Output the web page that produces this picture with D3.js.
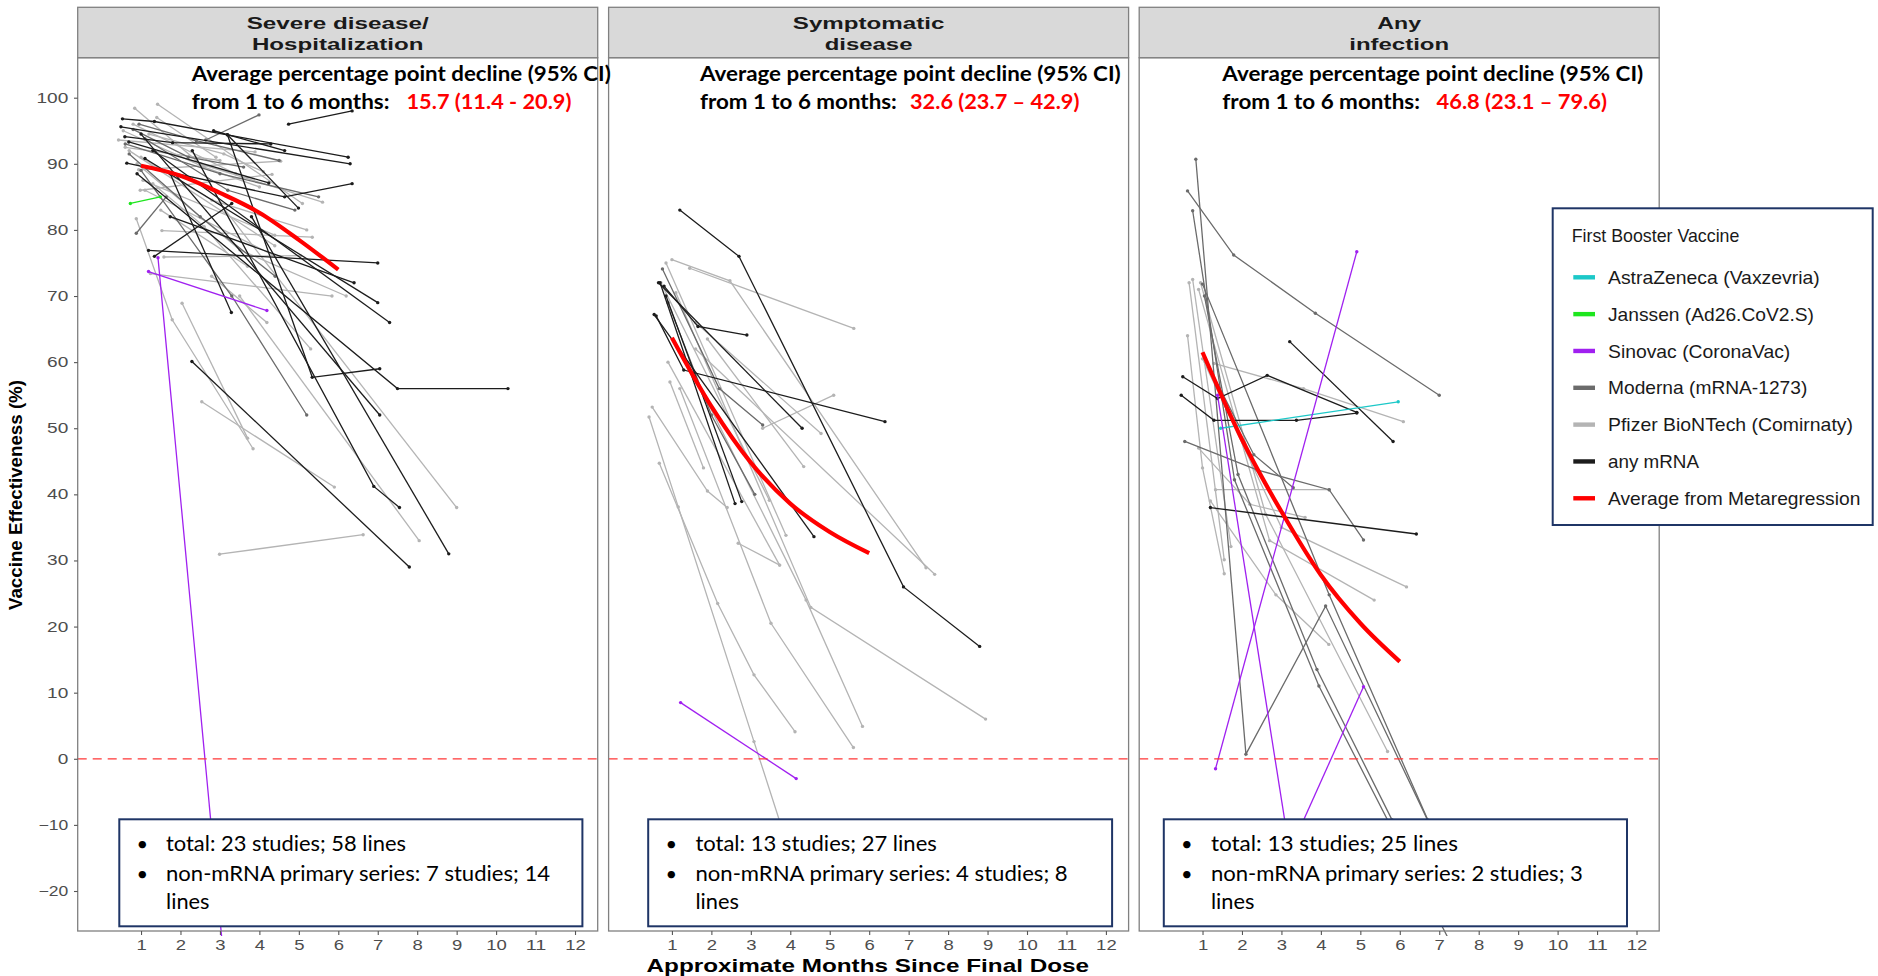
<!DOCTYPE html>
<html><head><meta charset="utf-8">
<script src="https://cdn.jsdelivr.net/npm/d3@7"></script>
<style>body{margin:0;background:#fff}svg{display:block}</style>
</head><body>
<script>
// ---------------- DATA ----------------
const xTicks = [1,2,3,4,5,6,7,8,9,10,11,12];
const yTicks = [-20,-10,0,10,20,30,40,50,60,70,80,90,100];
const panelTitles = [["Severe disease/","Hospitalization"],["Symptomatic","disease"],["Any","infection"]];
const vaccineCodes = ["AZ","J","S","M","P","A","AVG"];
const vaccineLabels = ["AstraZeneca (Vaxzevria)","Janssen (Ad26.CoV2.S)","Sinovac (CoronaVac)","Moderna (mRNA-1273)","Pfizer BioNTech (Comirnaty)","any mRNA","Average from Metaregression"];
const legendTitle = "First Booster Vaccine";
const declineLabel = "Average percentage point decline (95% CI)";
const declineFrom = "from 1 to 6 months:";
const declineValues = ["15.7 (11.4 - 20.9)","32.6 (23.7 \u2013 42.9)","46.8 (23.1 \u2013 79.6)"];
const boxTotal = ["total: 23 studies; 58 lines","total: 13 studies; 27 lines","total:  13 studies; 25 lines"];
const boxNonMrna = ["non-mRNA primary series: 7 studies; 14","non-mRNA primary series: 4 studies; 8","non-mRNA primary series: 2 studies; 3"];
const boxTail = ["lines","lines","lines"];
const xTitle = "Approximate Months Since Final Dose";
const yTitle = "Vaccine Effectiveness (%)";

// [first booster, [[months, VE%], ...]]
const severeLines = [
 ["A",[[0.53,96.8],[1.34,96.4],[6.25,91.0]]],
 ["A",[[0.49,95.6],[6.3,90.0]]],
 ["A",[[4.74,96.0],[6.35,98.0]]],
 ["A",[[2.84,95.0],[4.64,92.0]]],
 ["A",[[0.59,94.1],[1.8,93.2],[4.29,93.0]]],
 ["A",[[3.19,94.4],[4.99,83.3]]],
 ["A",[[0.64,90.1],[4.64,85.0],[6.35,87.0]]],
 ["A",[[1.19,76.9],[7.0,75.0]]],
 ["A",[[1.34,76.0],[3.3,84.0]]],
 ["A",[[1.74,82.0],[6.4,72.0]]],
 ["A",[[2.29,60.1],[7.8,29.0]]],
 ["A",[[0.9,88.5],[7.5,56.0],[10.3,56.0]]],
 ["A",[[3.19,94.4],[5.34,57.7],[7.05,59.0]]],
 ["A",[[1.0,94.5],[7.05,52.0]]],
 ["A",[[1.74,88.5],[3.29,67.5]]],
 ["A",[[1.3,92.0],[7.3,66.0]]],
 ["A",[[1.1,90.8],[7.0,69.0]]],
 ["A",[[2.3,92.0],[6.9,41.2],[7.55,38.0]]],
 ["A",[[3.8,82.0],[8.8,31.0]]],
 ["A",[[0.69,93.3],[4.24,87.1]]],
 ["M",[[2.64,93.6],[3.99,97.4]]],
 ["M",[[0.95,96.0],[2.4,93.5],[4.5,90.5]]],
 ["M",[[0.88,79.5],[1.64,85.0]]],
 ["M",[[0.6,93.0],[3.0,88.5],[5.5,85.0]]],
 ["M",[[1.1,93.8],[3.2,86.0],[4.9,83.0]]],
 ["M",[[0.7,91.5],[2.5,82.0],[4.4,73.0]]],
 ["M",[[1.0,89.0],[3.3,70.0],[5.2,52.0]]],
 ["M",[[0.8,95.2],[2.2,91.0],[3.6,89.5]]],
 ["P",[[0.84,98.4],[2.5,90.0],[5.6,84.2]]],
 ["P",[[1.42,99.0],[5.09,84.0]]],
 ["P",[[0.43,93.6],[3.89,91.8]]],
 ["P",[[0.94,89.1],[4.54,90.4]]],
 ["P",[[0.98,86.0],[4.32,88.4]]],
 ["P",[[0.88,81.7],[1.79,66.4],[3.84,46.9]]],
 ["P",[[2.04,68.9],[3.7,48.5]]],
 ["P",[[2.54,54.0],[5.9,41.1]]],
 ["P",[[1.53,79.9],[5.34,78.9]]],
 ["P",[[1.24,73.4],[5.84,70.0]]],
 ["P",[[1.58,75.9],[5.04,76.1]]],
 ["P",[[2.79,73.0],[4.19,66.0]]],
 ["P",[[3.0,84.0],[9.0,38.0]]],
 ["P",[[3.5,70.0],[8.05,33.0]]],
 ["P",[[2.99,30.95],[6.63,33.9]]],
 ["P",[[1.05,87.5],[4.39,79.2]]],
 ["P",[[1.1,86.0],[4.34,76.2]]],
 ["P",[[0.7,92.0],[4.39,77.6]]],
 ["P",[[0.55,95.0],[2.6,89.5],[4.0,86.5]]],
 ["P",[[0.8,96.0],[3.4,88.5]]],
 ["P",[[0.6,92.5],[3.0,90.5]]],
 ["P",[[1.0,91.0],[2.8,84.5],[5.2,80.0]]],
 ["P",[[1.5,83.0],[3.7,74.5]]],
 ["P",[[0.9,90.0],[3.5,77.0],[6.2,70.0]]],
 ["P",[[1.2,94.5],[3.1,91.5],[4.1,88.8]]],
 ["P",[[1.4,97.0],[2.9,91.0]]],
 ["P",[[1.3,87.0],[2.6,80.5],[5.3,62.0]]],
 ["S",[[1.43,75.8],[3.06,-28.0]]],
 ["S",[[1.19,73.7],[4.19,67.8]]],
 ["J",[[0.73,84.0],[1.49,85.0]]]
];
const symptomaticLines = [
 ["A",[[1.2,83.0],[2.7,76.0],[6.87,26.0],[8.8,17.0]]],
 ["A",[[0.6,67.0],[1.3,58.8],[6.4,51.0]]],
 ["A",[[0.66,72.0],[4.3,50.0]]],
 ["A",[[0.55,67.2],[4.6,33.6]]],
 ["A",[[0.8,71.5],[1.66,65.4],[2.9,64.1]]],
 ["A",[[0.7,72.0],[2.6,38.6]]],
 ["A",[[0.85,70.0],[2.77,38.9]]],
 ["M",[[0.76,74.1],[2.2,56.0],[3.3,50.5]]],
 ["M",[[0.9,69.0],[2.0,52.0],[3.1,40.0]]],
 ["P",[[1.45,74.2],[5.61,65.1]]],
 ["P",[[1.0,75.5],[2.47,72.3],[7.44,28.9]]],
 ["P",[[1.6,62.0],[7.66,27.9]]],
 ["P",[[3.3,50.0],[5.1,55.0]]],
 ["P",[[1.1,70.5],[4.52,22.9],[8.95,6.0]]],
 ["P",[[1.4,60.0],[4.4,24.0],[5.83,4.9]]],
 ["P",[[1.2,56.0],[3.51,20.5],[5.6,1.7]]],
 ["P",[[0.68,44.7],[2.16,23.5],[3.08,12.7],[4.12,4.1]]],
 ["P",[[0.42,51.7],[1.16,38.1],[3.08,2.6],[4.3,-20.0]]],
 ["P",[[2.68,32.6],[3.73,29.3]]],
 ["P",[[0.85,75.0],[3.89,33.8]]],
 ["P",[[0.72,72.0],[3.47,39.1]]],
 ["P",[[0.9,60.0],[3.73,29.3]]],
 ["P",[[1.9,63.5],[4.34,44.2]]],
 ["P",[[1.6,66.0],[4.78,49.2]]],
 ["P",[[0.5,53.2],[1.9,40.5],[2.4,38.0]]],
 ["P",[[0.95,57.0],[1.8,44.0]]],
 ["S",[[1.22,8.5],[4.15,-3.0]]]
];
const infectionLines = [
 ["M",[[0.83,90.7],[2.1,0.7],[4.12,23.1],[6.7,-9.2],[7.4,-18.0]]],
 ["M",[[1.0,71.8],[4.21,24.8],[6.75,-9.8],[7.3,-17.0]]],
 ["M",[[0.75,82.9],[1.81,42.2],[3.95,11.0],[7.3,-28.0]]],
 ["M",[[1.05,70.0],[1.9,43.0],[3.9,13.5],[5.8,-9.2],[6.5,-18.0]]],
 ["M",[[0.62,85.9],[1.79,76.2],[3.86,67.4],[7.0,55.0]]],
 ["M",[[0.55,48.0],[2.38,43.7],[4.21,40.7],[5.08,33.1]]],
 ["M",[[1.1,60.0],[2.3,46.0],[3.3,41.0]]],
 ["A",[[0.5,57.8],[1.38,54.5],[2.64,58.0],[4.91,52.4]]],
 ["A",[[0.46,55.0],[1.29,51.2],[3.38,51.2],[4.91,52.3]]],
 ["A",[[3.21,63.1],[5.83,48.0]]],
 ["A",[[1.2,38.0],[6.42,34.0]]],
 ["P",[[1.29,59.8],[3.56,56.0],[6.09,51.0]]],
 ["P",[[1.33,40.7],[4.21,40.7]]],
 ["P",[[0.66,72.0],[1.55,30.1]]],
 ["P",[[0.75,72.5],[1.72,32.1]]],
 ["P",[[0.9,71.0],[2.7,33.0],[5.35,24.0]]],
 ["P",[[1.0,60.5],[3.0,35.0],[6.17,26.0]]],
 ["P",[[0.95,72.0],[2.6,37.0],[5.69,1.1]]],
 ["P",[[1.2,39.0],[2.86,24.8],[4.2,17.3]]],
 ["P",[[0.62,64.0],[1.0,44.0],[1.55,28.0]]],
 ["P",[[0.9,47.0],[2.2,38.5],[3.6,36.5]]],
 ["AZ",[[1.46,50.0],[5.96,54.0]]],
 ["S",[[1.33,-1.5],[4.91,76.7]]],
 ["S",[[1.38,55.0],[3.46,-23.5]]],
 ["S",[[2.49,-23.5],[5.08,10.9]]]
];
const severeAvg = [[1,89.7],[2,88.2],[3,85.6],[4,82.6],[5,78.5],[6,74.0]];
const symptomaticAvg = [[1,63.7],[2,53.3],[3,44.8],[4,38.6],[5,34.3],[6,31.1]];
const infectionAvg = [[1,61.5],[2,48.3],[3,37.4],[4,27.8],[5,20.5],[6,14.7]];

// ---------------- STYLE / LAYOUT ----------------
const colors = {AZ:"#1cc8c8",J:"#1ee61e",S:"#a020f0",M:"#6b6b6b",P:"#b4b4b4",A:"#1c1c1c",AVG:"#ff0000"};
const panelLeft = [77.7, 608.6, 1139.2], panelW = 520;
const stripTop = 7.3, panelTop = 57.7, panelBottom = 931;
const borderCol = "#808080", navy = "#1f3566";
const sans = "'Liberation Sans', Arial, sans-serif";
const calibri = "Lato, 'Open Sans', sans-serif";

const svg = d3.select("body").append("svg").attr("width",1878).attr("height",976)
  .style("font-family", sans);

const x = d3.scaleLinear().domain([-0.605,12.575]).range([0,panelW]);
const y = d3.scaleLinear().domain([-26.05,106.05]).range([panelBottom,panelTop]);
const line = d3.line().x(d=>x(d[0])).y(d=>y(d[1]));
const avgLine = d3.line().x(d=>x(d[0])).y(d=>y(d[1])).curve(d3.curveMonotoneX);

const allLines = [severeLines, symptomaticLines, infectionLines];
const allAvg = [severeAvg, symptomaticAvg, infectionAvg];

function fitText(sel, w){ sel.attr("textLength", w).attr("lengthAdjust","spacingAndGlyphs"); }

const defs = svg.append("defs");
allLines.forEach((lines, i) => {
  defs.append("clipPath").attr("id","clip"+i).append("rect")
    .attr("x",0).attr("y",panelTop).attr("width",panelW).attr("height",panelBottom-panelTop+5);
  const g = svg.append("g").attr("transform",`translate(${panelLeft[i]},0)`);
  g.append("rect").attr("x",0).attr("y",panelTop).attr("width",panelW).attr("height",panelBottom-panelTop).attr("fill","#fff");
  const data = g.append("g").attr("clip-path",`url(#clip${i})`);
  const order = {P:0,M:1,A:2,AZ:3,J:3,S:3};
  const sorted = lines.slice().sort((a,b)=>order[a[0]]-order[b[0]]);
  sorted.forEach(([v,pts])=>{
    data.append("path").attr("d",line(pts)).attr("fill","none").attr("stroke",colors[v]).attr("stroke-width",1.3);
    data.selectAll(null).data(pts).enter().append("circle")
      .attr("cx",d=>x(d[0])).attr("cy",d=>y(d[1])).attr("r",1.7).attr("fill",colors[v]);
  });
  data.append("path").attr("d",avgLine(allAvg[i])).attr("fill","none").attr("stroke",colors.AVG).attr("stroke-width",4.2);
  g.append("line").attr("x1",0).attr("x2",panelW).attr("y1",y(0)).attr("y2",y(0))
    .attr("stroke","#ff3636").attr("stroke-width",1.3).attr("stroke-dasharray","9,6");
  g.append("rect").attr("x",0).attr("y",panelTop).attr("width",panelW).attr("height",panelBottom-panelTop)
    .attr("fill","none").attr("stroke",borderCol).attr("stroke-width",1.3);
  g.append("rect").attr("x",0).attr("y",stripTop).attr("width",panelW).attr("height",panelTop-stripTop)
    .attr("fill","#d9d9d9").attr("stroke",borderCol).attr("stroke-width",1.3);
  const stripW = [[182,171.6],[151.5,87.8],[43.7,99.9]][i];
  panelTitles[i].forEach((t,k)=>{
    g.append("text").attr("x",panelW/2).attr("y",[29.3,50][k]).attr("text-anchor","middle")
      .attr("font-weight","bold").attr("font-size",17).attr("fill","#1a1a1a").text(t).call(fitText, stripW[k]);
  });
  const xa = g.append("g").attr("transform",`translate(0,${panelBottom})`)
    .call(d3.axisBottom(x).tickValues(xTicks).tickSize(4).tickPadding(5));
  xa.select(".domain").remove();
  xa.selectAll(".tick line").attr("stroke","#555").attr("stroke-width",1.1);
  xa.selectAll(".tick text").attr("fill","#4d4d4d").attr("font-size",14).attr("font-family",sans)
    .each(function(d){ const s=String(d); d3.select(this).call(fitText, s.length*10.3); });
  if (i===0) {
    const ya = g.append("g").call(d3.axisLeft(y).tickValues(yTicks).tickSize(3.7).tickPadding(5.7));
    ya.select(".domain").remove();
    ya.selectAll(".tick line").attr("stroke","#555").attr("stroke-width",1.1);
    ya.selectAll(".tick text").attr("fill","#4d4d4d").attr("font-size",14).attr("font-family",sans)
      .each(function(d){ const s=String(d); const w=s.replace("-","").length*10.6+(s.includes("-")?8.5:0); d3.select(this).call(fitText, w); });
  }
});

const ann = [
  {x:191.8, w1:419, wf:197.7, rx:406.5, rw:164.9},
  {x:699.9, w1:420.8, wf:197, rx:910, rw:169.4},
  {x:1222.3, w1:420.9, wf:197.7, rx:1436.5, rw:170.5}
];
ann.forEach((a,i)=>{
  svg.append("text").attr("x",a.x).attr("y",81).attr("font-family",calibri).attr("font-weight","bold")
    .attr("font-size",20).attr("fill","#000").text(declineLabel).call(fitText,a.w1);
  svg.append("text").attr("x",a.x).attr("y",109.3).attr("font-family",calibri).attr("font-weight","bold")
    .attr("font-size",20).attr("fill","#000").text(declineFrom).call(fitText,a.wf);
  svg.append("text").attr("x",a.rx).attr("y",109.3).attr("font-family",calibri).attr("font-weight","bold")
    .attr("font-size",20).attr("fill","#ff0000").text(declineValues[i]).call(fitText,a.rw);
});

const boxes = [
  {x0:119.3,x1:582.4,bx:142.3,tx:166,w:[240,384,43.5]},
  {x0:648.2,x1:1112.1,bx:671.3,tx:695.4,w:[241.4,372.3,43.5]},
  {x0:1163.8,x1:1627,bx:1186.8,tx:1210.9,w:[247,372,43.5]}
];
boxes.forEach((b,i)=>{
  svg.append("rect").attr("x",b.x0).attr("y",819.3).attr("width",b.x1-b.x0).attr("height",926.3-819.3)
    .attr("fill","#fff").attr("stroke",navy).attr("stroke-width",2);
  const tl = [boxTotal[i], boxNonMrna[i], boxTail[i]];
  const by = [850.7, 880.5, 908.5];
  tl.forEach((t,k)=>{
    svg.append("text").attr("x",b.tx).attr("y",by[k]).attr("font-family",calibri).attr("font-size",20.5)
      .attr("fill","#000").text(t).call(fitText,b.w[k]);
  });
  [0,1].forEach(k=>{
    svg.append("text").attr("x",b.bx).attr("y",by[k]).attr("text-anchor","middle").attr("font-family",calibri)
      .attr("font-size",20).attr("fill","#000").text("\u2022");
  });
});

svg.append("text").attr("x",867.8).attr("y",971.7).attr("text-anchor","middle").attr("font-weight","bold")
  .attr("font-size",18.5).attr("fill","#000").text(xTitle).call(fitText,442.5);
svg.append("text").attr("transform","translate(21.7,495) rotate(-90)").attr("text-anchor","middle")
  .attr("font-weight","bold").attr("font-size",19).attr("fill","#000").text(yTitle).call(fitText,230);

const lg = svg.append("g");
lg.append("rect").attr("x",1552.7).attr("y",208.3).attr("width",320).attr("height",316.7)
  .attr("fill","#fff").attr("stroke",navy).attr("stroke-width",2);
lg.append("text").attr("x",1571.7).attr("y",241.7).attr("font-size",18.5).attr("fill","#1a1a1a")
  .text(legendTitle).call(fitText,167.7);
const legW = [211.7,206,182.3,199.3,245,91,252.3];
vaccineCodes.forEach((c,k)=>{
  const cy = 277.3 + k*36.83;
  lg.append("rect").attr("x",1573.3).attr("y",cy-2.2).attr("width",21.7).attr("height",4.4).attr("fill",colors[c]);
  lg.append("text").attr("x",1608).attr("y",cy+6.7).attr("font-size",18.5).attr("fill","#1a1a1a")
    .text(vaccineLabels[k]).call(fitText,legW[k]);
});
</script>
</body></html>
